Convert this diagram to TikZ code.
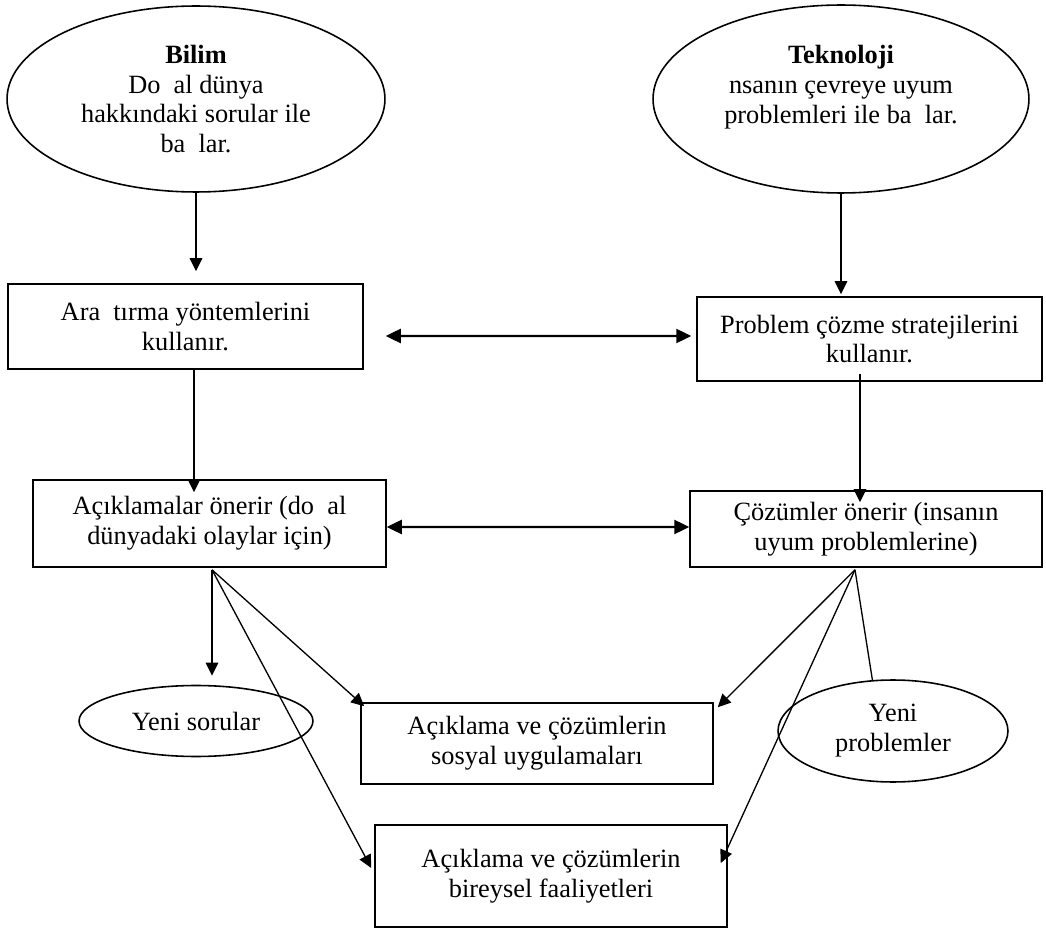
\documentclass[tikz,border=0pt]{standalone}
\usepackage{fontspec}
\setmainfont{Liberation Serif}
\usetikzlibrary{arrows.meta, shapes.geometric}
\newcommand{\lost}{\hspace{0.5em}}

\begin{document}
\begin{tikzpicture}[
    x=0.02cm, y=-0.02cm,
    font=\fontsize{15}{17}\selectfont,
    oval/.style={draw, ellipse, line width=0.9pt, inner sep=0pt, align=center},
    box/.style={draw, rectangle, line width=0.9pt, inner sep=0pt, align=center},
    arrow/.style={-{Triangle[length=0.26cm, width=0.25cm]}, line width=0.75pt},
    twoway/.style={{Triangle[length=0.3cm, width=0.28cm]}-{Triangle[length=0.3cm, width=0.28cm]}, line width=1.4pt},
    line/.style={line width=0.75pt}
]
    \useasboundingbox (0,0) rectangle (1046,929);

    % Science and technology
    \node[oval, minimum width=7.56cm, minimum height=3.72cm] (bilim) at (196,99)
        {\textbf{Bilim}\\Do\lost al dünya\\hakkındaki sorular ile\\ba\lost lar.};
    \node[oval, minimum width=7.52cm, minimum height=3.76cm] (tekno) at (841,99)
        {\textbf{Teknoloji}\\nsanın çevreye uyum\\problemleri ile ba\lost lar.\\\mbox{}};

    % Methods
    \node[box, minimum width=7.1cm, minimum height=1.7cm] (ara) at (185.5,326.5)
        {Ara\lost tırma yöntemlerini\\kullanır.};
    \node[box, minimum width=6.9cm, minimum height=1.68cm] (prob) at (869.5,339)
        {Problem çözme stratejilerini\\kullanır.};

    % Outcomes
    \node[box, minimum width=7.06cm, minimum height=1.74cm] (acik) at (209.5,523.5)
        {Açıklamalar önerir (do\lost al\\dünyadaki olaylar için)};
    \node[box, minimum width=7.04cm, minimum height=1.52cm] (cozum) at (866,529)
        {Çözümler önerir (insanın\\uyum problemlerine)};

    % Results
    \node[oval, minimum width=4.68cm, minimum height=1.42cm] (yenisoru) at (196,721) {Yeni sorular};
    \node[box, minimum width=7.04cm, minimum height=1.62cm] (sosyal) at (537,743.5)
        {Açıklama ve çözümlerin\\sosyal uygulamaları};
    \node[oval, minimum width=4.6cm, minimum height=2.04cm] (yeniprob) at (893,731) {Yeni\\problemler};
    \node[box, minimum width=7.04cm, minimum height=2.04cm] (bireysel) at (551,876)
        {Açıklama ve çözümlerin\\bireysel faaliyetleri};

    % Arrows
    \draw[arrow] (bilim.south) -- ([yshift=0.24cm]bilim.south |- ara.north);
    \draw[arrow] (tekno.south) -- ([yshift=0.04cm]tekno.south |- prob.north);
    \draw[twoway] ([xshift=0.44cm, yshift=-0.19cm]ara.east) -- ([xshift=-0.1cm, yshift=0.06cm]prob.west);
    \draw[arrow] ([xshift=0.17cm]ara.south) -- ([xshift=0.17cm, yshift=-0.26cm]ara.south |- acik.north);
    \draw[arrow] ([xshift=-0.19cm, yshift=0.16cm]prob.south) -- ([xshift=-0.19cm, yshift=-0.24cm]prob.south |- cozum.north);
    \draw[twoway] ([yshift=-0.07cm]acik.east) -- ([yshift=0.04cm]cozum.west);

    % Fan from explanations
    \coordinate (fanL) at ([xshift=0.05cm, yshift=-0.04cm]acik.south);
    \draw[arrow] (fanL) -- ([yshift=0.18cm]fanL |- yenisoru.north);
    \draw[arrow] (fanL) -- ([xshift=0.08cm, yshift=-0.08cm]sosyal.north west);
    \draw[arrow] (fanL) -- ([xshift=-0.06cm, yshift=0.16cm]bireysel.west);

    % Fan from solutions
    \coordinate (fanR) at ([xshift=-0.22cm, yshift=-0.04cm]cozum.south);
    \draw[arrow] (fanR) -- ([xshift=0.08cm, yshift=-0.1cm]sosyal.north east);
    \draw[arrow] (fanR) -- ([xshift=-0.14cm, yshift=0.26cm]bireysel.east);
    \draw[line] (fanR) -- (yeniprob.112);

\end{tikzpicture}
\end{document}
